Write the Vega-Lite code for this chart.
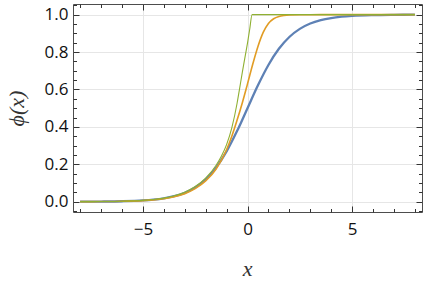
{
  "$schema": "https://vega.github.io/schema/vega-lite/v6.json",
  "width": 349,
  "height": 208,
  "autosize": "none",
  "padding": {"left": 73, "top": 4, "right": 1, "bottom": 74},
  "background": "white",
  "config": {
    "view": {"stroke": "#4d4d4d", "strokeWidth": 1},
    "axis": {
      "domain": false,
      "tickColor": "#333333",
      "tickWidth": 1,
      "labelFont": "Open Sans",
      "labelFontSize": 17,
      "labelColor": "#111111",
      "gridColor": "#e6e6e6",
      "gridWidth": 1,
      "titleFont": "Liberation Serif",
      "titleFontStyle": "italic",
      "titleFontWeight": "normal",
      "titleFontSize": 22,
      "titleColor": "#333333"
    }
  },
  "datasets": {
    "blue": [
      {"x": -8, "y": 0.000335}, {"x": -7, "y": 0.000911}, {"x": -6, "y": 0.002473},
      {"x": -5, "y": 0.006693}, {"x": -4.5, "y": 0.01099}, {"x": -4, "y": 0.01799},
      {"x": -3.5, "y": 0.02931}, {"x": -3, "y": 0.04743}, {"x": -2.5, "y": 0.07586},
      {"x": -2, "y": 0.1192}, {"x": -1.5, "y": 0.1824}, {"x": -1, "y": 0.2689},
      {"x": -0.5, "y": 0.3775}, {"x": 0, "y": 0.5}, {"x": 0.5, "y": 0.6225},
      {"x": 1, "y": 0.7311}, {"x": 1.5, "y": 0.8176}, {"x": 2, "y": 0.8808},
      {"x": 2.5, "y": 0.9241}, {"x": 3, "y": 0.9526}, {"x": 3.5, "y": 0.9707},
      {"x": 4, "y": 0.982}, {"x": 4.5, "y": 0.989}, {"x": 5, "y": 0.9933},
      {"x": 6, "y": 0.9975}, {"x": 7, "y": 0.9991}, {"x": 8, "y": 0.99966}
    ],
    "orange": [
      {"x": -8, "y": 0.0003}, {"x": -7, "y": 0.00082}, {"x": -6, "y": 0.0022},
      {"x": -5, "y": 0.006}, {"x": -4.5, "y": 0.0099}, {"x": -4, "y": 0.0162},
      {"x": -3.5, "y": 0.0265}, {"x": -3, "y": 0.0432}, {"x": -2.5, "y": 0.07},
      {"x": -2, "y": 0.111}, {"x": -1.5, "y": 0.175}, {"x": -1, "y": 0.278},
      {"x": -0.75, "y": 0.35}, {"x": -0.5, "y": 0.435}, {"x": -0.25, "y": 0.528},
      {"x": 0, "y": 0.63}, {"x": 0.25, "y": 0.735}, {"x": 0.5, "y": 0.83},
      {"x": 0.75, "y": 0.905}, {"x": 1, "y": 0.953}, {"x": 1.25, "y": 0.978},
      {"x": 1.5, "y": 0.99}, {"x": 1.75, "y": 0.9955}, {"x": 2, "y": 0.998},
      {"x": 2.5, "y": 0.9995}, {"x": 3, "y": 0.9999}, {"x": 4, "y": 1},
      {"x": 5, "y": 1}, {"x": 6, "y": 1}, {"x": 7, "y": 1}, {"x": 8, "y": 1}
    ],
    "green": [
      {"x": -8, "y": 0.00036}, {"x": -7, "y": 0.00098}, {"x": -6, "y": 0.0027},
      {"x": -5, "y": 0.0072}, {"x": -4.5, "y": 0.0118}, {"x": -4, "y": 0.0193},
      {"x": -3.5, "y": 0.0315}, {"x": -3, "y": 0.051}, {"x": -2.5, "y": 0.081},
      {"x": -2, "y": 0.126}, {"x": -1.5, "y": 0.195}, {"x": -1.25, "y": 0.243},
      {"x": -1, "y": 0.305}, {"x": -0.75, "y": 0.395}, {"x": -0.5, "y": 0.525},
      {"x": -0.4, "y": 0.59}, {"x": -0.25, "y": 0.69}, {"x": -0.1, "y": 0.785},
      {"x": 0, "y": 0.848}, {"x": 0.1, "y": 0.918}, {"x": 0.22, "y": 1},
      {"x": 0.5, "y": 1}, {"x": 1, "y": 1}, {"x": 2, "y": 1}, {"x": 3, "y": 1},
      {"x": 4, "y": 1}, {"x": 5, "y": 1}, {"x": 6, "y": 1}, {"x": 7, "y": 1}, {"x": 8, "y": 1}
    ]
  },
  "resolve": {"axis": {"x": "independent", "y": "independent"}},
  "layer": [
    {
      "mark": {"type": "rule", "color": "#e6e6e6", "strokeWidth": 1},
      "encoding": {
        "y": {
          "datum": 0, "type": "quantitative",
          "scale": {"domain": [-0.055, 1.057], "nice": false, "zero": false},
          "axis": {"orient": "right", "values": [-0.05, 0, 0.05, 0.1, 0.15, 0.2, 0.25, 0.3, 0.35, 0.4, 0.45, 0.5, 0.55, 0.6, 0.65, 0.7, 0.75, 0.8, 0.85, 0.9, 0.95, 1, 1.05], "labels": false, "grid": false, "tickSize": -3.5, "title": null}
        }
      }
    },
    {
      "mark": {"type": "rule", "color": "#222222", "strokeWidth": 1},
      "encoding": {
        "x": {
          "datum": 0, "type": "quantitative",
          "scale": {"domain": [-8.34, 8.34], "nice": false, "zero": false},
          "axis": {"orient": "top", "values": [-5, 0, 5], "labels": false, "grid": false, "tickSize": -6, "title": null}
        }
      }
    },
    {
      "data": {"name": "blue"},
      "mark": {"type": "line", "interpolate": "monotone", "color": "#5E81B5", "strokeWidth": 2.3},
      "encoding": {
        "x": {
          "field": "x", "type": "quantitative",
          "scale": {"domain": [-8.34, 8.34], "nice": false, "zero": false},
          "axis": {"orient": "bottom", "values": [-5, 0, 5], "grid": true, "tickSize": -6, "labelPadding": 15, "title": "x", "titleX": 174, "titleY": 63, "titleBaseline": "alphabetic"}
        },
        "y": {
          "field": "y", "type": "quantitative",
          "scale": {"domain": [-0.055, 1.057], "nice": false, "zero": false},
          "axis": {"orient": "left", "values": [0, 0.2, 0.4, 0.6, 0.8, 1], "format": ".1f", "grid": true, "tickSize": -6, "labelPadding": 11, "title": "ϕ(x)", "titleX": -57, "titleY": 104, "titleBaseline": "middle", "titleAngle": -90}
        }
      }
    },
    {
      "data": {"name": "orange"},
      "mark": {"type": "line", "interpolate": "monotone", "color": "#E19C24", "strokeWidth": 1.6},
      "encoding": {
        "x": {
          "field": "x", "type": "quantitative",
          "scale": {"domain": [-8.34, 8.34], "nice": false, "zero": false},
          "axis": {"orient": "bottom", "values": [-8, -7, -6, -5, -4, -3, -2, -1, 0, 1, 2, 3, 4, 5, 6, 7, 8], "labels": false, "grid": false, "tickSize": -3.5, "title": null}
        },
        "y": {
          "field": "y", "type": "quantitative",
          "scale": {"domain": [-0.055, 1.057], "nice": false, "zero": false},
          "axis": {"orient": "left", "values": [-0.05, 0, 0.05, 0.1, 0.15, 0.2, 0.25, 0.3, 0.35, 0.4, 0.45, 0.5, 0.55, 0.6, 0.65, 0.7, 0.75, 0.8, 0.85, 0.9, 0.95, 1, 1.05], "labels": false, "grid": false, "tickSize": -3.5, "title": null}
        }
      }
    },
    {
      "data": {"name": "green"},
      "mark": {"type": "line", "interpolate": "monotone", "color": "#8FB032", "strokeWidth": 1.1},
      "encoding": {
        "x": {
          "field": "x", "type": "quantitative",
          "scale": {"domain": [-8.34, 8.34], "nice": false, "zero": false},
          "axis": {"orient": "top", "values": [-8, -7, -6, -5, -4, -3, -2, -1, 0, 1, 2, 3, 4, 5, 6, 7, 8], "labels": false, "grid": false, "tickSize": -3.5, "title": null}
        },
        "y": {
          "field": "y", "type": "quantitative",
          "scale": {"domain": [-0.055, 1.057], "nice": false, "zero": false},
          "axis": {"orient": "right", "values": [0, 0.2, 0.4, 0.6, 0.8, 1], "labels": false, "grid": false, "tickSize": -6, "title": null}
        }
      }
    }
  ]
}
